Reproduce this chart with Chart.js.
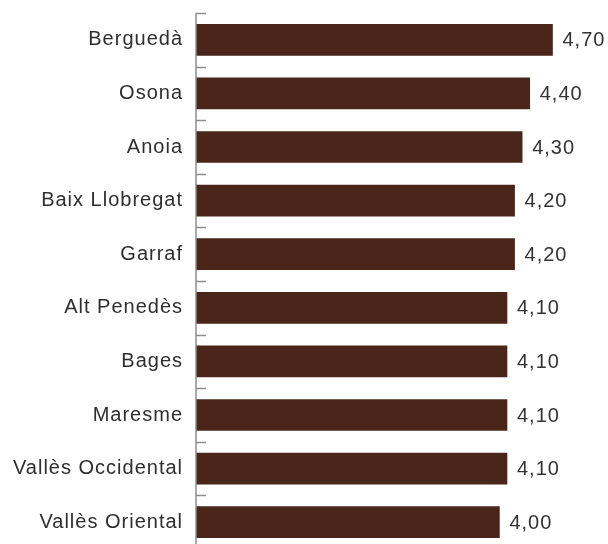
<!DOCTYPE html>
<html>
<head>
<meta charset="utf-8">
<script src="https://cdn.jsdelivr.net/npm/chart.js@4/dist/chart.umd.min.js"></script>
<style>
  html, body { margin: 0; padding: 0; background: #fff; overflow: hidden; }
  canvas { display: block; }
</style>
</head>
<body>
<canvas id="barrasComarques" width="608" height="552"></canvas>
<script>
const comarques = ['Berguedà', 'Osona', 'Anoia', 'Baix Llobregat', 'Garraf', 'Alt Penedès', 'Bages', 'Maresme', 'Vallès Occidental', 'Vallès Oriental'];
const valors = [4.70, 4.40, 4.30, 4.20, 4.20, 4.10, 4.10, 4.10, 4.10, 4.00];

const colorBarra = '#4a2519';
const colorEix = '#8c8c8c';
const lletra = '"Liberation Sans", Arial, sans-serif';

// espaiat de lletra com a la referència
const espaiat = {
    id: 'espaiat',
    beforeDraw(chart) {
        chart.ctx.letterSpacing = '1px';
    }
};

// marques petites dins l'eix, entre categories, i etiquetes de valor
const extres = {
    id: 'extres',
    afterDatasetsDraw(chart) {
        const ctx = chart.ctx;
        const y = chart.scales.y;
        const x0 = chart.chartArea.left;
        const pas = y.getPixelForValue(1) - y.getPixelForValue(0);
        ctx.save();
        ctx.strokeStyle = colorEix;
        ctx.lineWidth = 1.5;
        for (let i = 0; i < comarques.length; i++) {
            const py = Math.round(y.getPixelForValue(i) - pas / 2) + 0.5;
            ctx.beginPath();
            ctx.moveTo(x0, py);
            ctx.lineTo(x0 + 10, py);
            ctx.stroke();
        }
        // eix vertical
        ctx.beginPath();
        ctx.moveTo(x0, y.getPixelForValue(0) - pas / 2);
        ctx.lineTo(x0, chart.height);
        ctx.stroke();

        ctx.fillStyle = '#333';
        ctx.font = '20px ' + lletra;
        ctx.textBaseline = 'middle';
        ctx.textAlign = 'left';
        chart.getDatasetMeta(0).data.forEach((bar, i) => {
            ctx.fillText(valors[i].toFixed(2).replace('.', ','), bar.x + 10, bar.y + 1);
        });
        ctx.restore();
    }
};

new Chart(document.getElementById('barrasComarques'), {
    type: 'bar',
    data: {
        labels: comarques,
        datasets: [{
            data: valors,
            backgroundColor: colorBarra,
            barThickness: 31
        }]
    },
    options: {
        indexAxis: 'y',
        responsive: false,
        animation: false,
        layout: { padding: { top: 13, bottom: 3, left: 0, right: 10 } },
        scales: {
            x: {
                display: false,
                min: 0,
                max: 5.3
            },
            y: {
                grid: { display: false, drawTicks: false },
                border: { display: false },
                afterFit(scale) {
                    scale.width = 196;
                    scale.paddingTop = 0;
                    scale.paddingBottom = 0;
                },
                ticks: {
                    color: '#2e2e2e',
                    padding: 13,
                    font: { family: lletra, size: 20 }
                }
            }
        },
        plugins: {
            legend: { display: false },
            tooltip: { enabled: false }
        }
    },
    plugins: [espaiat, extres]
});
</script>
</body>
</html>
